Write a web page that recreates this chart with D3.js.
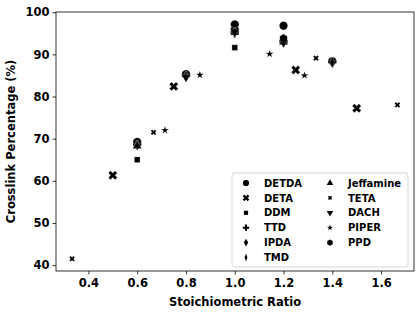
<!DOCTYPE html>
<html>
<head>
<meta charset="utf-8">
<script src="https://cdn.jsdelivr.net/npm/d3@7"></script>
<style>
  body { margin: 0; background: #fff; }
  svg text { font-family: "DejaVu Sans", sans-serif; font-weight: bold; fill: #000; }
</style>
</head>
<body>
<svg id="chart" width="420" height="316"></svg>
<script>
// amine names, legend order
const amines = ["DETDA", "DETA", "DDM", "TTD", "IPDA", "TMD", "Jeffamine", "TETA", "DACH", "PIPER", "PPD"];

// stoichiometric ratio / crosslink % per amine
const detdaX = [0.6, 0.8, 1.0, 1.2, 1.4];
const detdaY = [69.2, 85.3, 97.1, 96.8, 88.4];
const detaX = [0.5, 0.75, 1.0, 1.25, 1.5];
const detaY = [61.3, 82.4, 95.6, 86.3, 77.2];
const ddmX = [0.6, 1.0];
const ddmY = [65.0, 91.6];
const ttdX = [0.6, 0.8, 1.0, 1.2, 1.4];
const ttdY = [68.6, 84.9, 95.3, 93.0, 88.2];
const ipdaX = [0.6, 0.8, 1.0, 1.2, 1.4];
const ipdaY = [68.4, 84.7, 95.1, 92.9, 88.0];
const tmdX = [0.6, 0.8, 1.0, 1.2, 1.4];
const tmdY = [68.5, 84.8, 95.0, 93.1, 88.1];
const jeffX = [0.6, 1.0, 1.2];
const jeffY = [68.3, 95.2, 92.9];
const tetaX = [0.333, 0.667, 1.333, 1.667];
const tetaY = [41.5, 71.5, 89.1, 78.0];
const dachX = [0.8, 1.0, 1.2];
const dachY = [84.6, 95.4, 92.8];
const piperX = [0.714, 0.857, 1.143, 1.286];
const piperY = [72.0, 85.1, 90.1, 85.0];
const ppdX = [1.2];
const ppdY = [93.8];

const xTicks = [0.4, 0.6, 0.8, 1.0, 1.2, 1.4, 1.6];
const yTicks = [40, 50, 60, 70, 80, 90, 100];

const seriesX = [detdaX, detaX, ddmX, ttdX, ipdaX, tmdX, jeffX, tetaX, dachX, piperX, ppdX];
const seriesY = [detdaY, detaY, ddmY, ttdY, ipdaY, tmdY, jeffY, tetaY, dachY, piperY, ppdY];

// hexagon, for PPD (matplotlib 'h')
const symbolHex = {
  draw(ctx, size) {
    const r = Math.sqrt(size / (1.5 * Math.sqrt(3)));
    for (let i = 0; i < 6; i++) {
      const a = Math.PI / 2 + i * Math.PI / 3;
      if (i === 0) ctx.moveTo(r * Math.cos(a), -r * Math.sin(a));
      else ctx.lineTo(r * Math.cos(a), -r * Math.sin(a));
    }
    ctx.closePath();
  }
};

// shape, size, rotation, x-squash for each amine
const markers = [
  {type: d3.symbolCircle, size: 55, rot: 0, sx: 1},
  {type: d3.symbolCross, size: 50, rot: 45, sx: 1},
  {type: d3.symbolSquare, size: 32, rot: 0, sx: 1},
  {type: d3.symbolCross, size: 40, rot: 0, sx: 1},
  {type: d3.symbolDiamond, size: 30, rot: 0, sx: 1},
  {type: d3.symbolDiamond, size: 34, rot: 0, sx: 0.6},
  {type: d3.symbolTriangle, size: 34, rot: 0, sx: 1},
  {type: d3.symbolCross, size: 20, rot: 45, sx: 1},
  {type: d3.symbolTriangle, size: 34, rot: 180, sx: 1},
  {type: d3.symbolStar, size: 20, rot: 0, sx: 1},
  {type: symbolHex, size: 48, rot: 0, sx: 1}
];

const svg = d3.select("#chart");
const margin = {left: 56, right: 6, top: 12, bottom: 45};
const width = 420 - margin.left - margin.right;
const height = 316 - margin.top - margin.bottom;

const x = d3.scaleLinear().domain([0.267, 1.735]).range([0, width]);
const y = d3.scaleLinear().domain([38.6, 100.05]).range([height, 0]);

const g = svg.append("g").attr("transform", `translate(${margin.left},${margin.top})`);

// points
amines.forEach((name, i) => {
  const m = markers[i];
  const pts = seriesX[i].map((v, j) => [v, seriesY[i][j]]);
  g.selectAll(null)
    .data(pts)
    .enter().append("path")
    .attr("d", d3.symbol().type(m.type).size(m.size))
    .attr("transform", d => `translate(${x(d[0])},${y(d[1])}) rotate(${m.rot}) scale(${m.sx},1)`)
    .attr("fill", "#000")
    .attr("stroke", "#fff")
    .attr("stroke-opacity", 0.35)
    .attr("stroke-width", 0.6);
});

// axes
const xAxis = g.append("g")
  .attr("transform", `translate(0,${height})`)
  .call(d3.axisBottom(x).tickValues(xTicks).tickFormat(d3.format(".1f")).tickSize(3.5).tickPadding(4));
const yAxis = g.append("g")
  .call(d3.axisLeft(y).tickValues(yTicks).tickFormat(d3.format("d")).tickSize(3.5).tickPadding(3));
[xAxis, yAxis].forEach(a => {
  a.select(".domain").remove();
  a.selectAll("text").style("font-size", "11.5px").attr("font-family", null);
  a.selectAll("line").attr("stroke", "#000").attr("stroke-width", 0.8);
});

g.append("rect")
  .attr("width", width).attr("height", height)
  .attr("fill", "none").attr("stroke", "#000").attr("stroke-width", 0.8);

svg.append("text")
  .attr("x", margin.left + width / 2).attr("y", 306)
  .attr("text-anchor", "middle").style("font-size", "11.5px")
  .text("Stoichiometric Ratio");
svg.append("text")
  .attr("transform", `translate(15,${margin.top + height / 2}) rotate(-90)`)
  .attr("text-anchor", "middle").style("font-size", "11.5px")
  .text("Crosslink Percentage (%)");

// legend
const lg = svg.append("g").attr("transform", "translate(232,173)");
lg.append("rect")
  .attr("width", 176).attr("height", 94).attr("rx", 2.5)
  .attr("fill", "#fff").attr("fill-opacity", 0.8)
  .attr("stroke", "#ccc").attr("stroke-width", 0.8);
amines.forEach((name, i) => {
  const col = i < 6 ? 0 : 1;
  const row = i < 6 ? i : i - 6;
  const m = markers[i];
  const ix = 14 + col * 84, iy = 10 + row * 14.9;
  lg.append("path")
    .attr("d", d3.symbol().type(m.type).size(m.size * 0.55))
    .attr("transform", `translate(${ix},${iy}) rotate(${m.rot}) scale(${m.sx},1)`)
    .attr("fill", "#000");
  lg.append("text")
    .attr("x", ix + 18).attr("y", iy + 3.6)
    .style("font-size", "10px")
    .text(name);
});
</script>
</body>
</html>
